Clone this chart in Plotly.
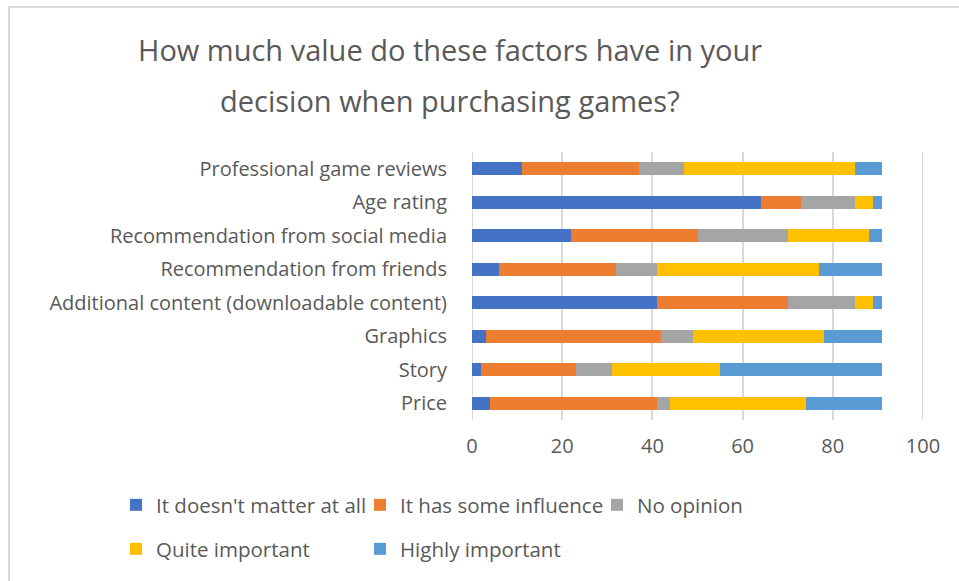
import plotly.graph_objects as go

# -----------------------------
# Data
# -----------------------------
factors = [
    'Professional game reviews',
    'Age rating',
    'Recommendation from social media',
    'Recommendation from friends',
    'Additional content (downloadable content)',
    'Graphics',
    'Story',
    'Price',
]

doesnt_matter = [11, 64, 22, 6, 41, 3, 2, 4]
some_influence = [26, 9, 28, 26, 29, 39, 21, 37]
no_opinion = [10, 12, 20, 9, 15, 7, 8, 3]
quite_important = [38, 4, 18, 36, 4, 29, 24, 30]
highly_important = [6, 2, 3, 14, 2, 13, 36, 17]

x_ticks = [0, 20, 40, 60, 80, 100]

series = [
    ("It doesn't matter at all", doesnt_matter, '#4472C4'),
    ('It has some influence', some_influence, '#ED7D31'),
    ('No opinion', no_opinion, '#A5A5A5'),
    ('Quite important', quite_important, '#FFC000'),
    ('Highly important', highly_important, '#5B9BD5'),
]

# -----------------------------
# Geometry helpers (pixels -> paper coords)
# -----------------------------
W, H = 959, 581
L, R, T, B = 472, 36, 152, 161
PW, PH = W - L - R, H - T - B


def px(x):
    return (x - L) / PW


def py(y):
    return (H - B - y) / PH


FONT = 'Open Sans'
GREY = '#595959'

# legend slots: (x of square's left edge, y centre) in pixels
legend_slots = [(130, 505), (374, 505), (611, 505), (130, 549), (374, 549)]

fig = go.Figure()
for i, (name, vals, color) in enumerate(series):
    lg = 'legend' if i == 0 else f'legend{i + 1}'
    fig.add_trace(go.Bar(
        y=factors,
        x=vals,
        orientation='h',
        name=name,
        marker=dict(color=color, line=dict(width=0)),
        legend=lg,
        hoverinfo='skip',
    ))

legends = {}
for i, (sx, sy) in enumerate(legend_slots):
    key = 'legend' if i == 0 else f'legend{i + 1}'
    legends[key] = dict(
        x=px(sx - 14), y=py(sy), xanchor='left', yanchor='middle',
        orientation='h', bgcolor='rgba(0,0,0,0)', borderwidth=0,
        font=dict(family=FONT, size=20.5, color=GREY),
        itemclick=False, itemdoubleclick=False,
    )

fig.update_layout(
    barmode='stack',
    bargap=0.61,
    width=W, height=H,
    margin=dict(l=L, r=R, t=T, b=B),
    paper_bgcolor='white',
    plot_bgcolor='white',
    font=dict(family=FONT, color=GREY),
    showlegend=True,
    **legends,
    xaxis=dict(
        range=[0, 100],
        tickvals=x_ticks,
        showgrid=True, gridcolor='#D9D9D9', gridwidth=2,
        zeroline=False, showline=False,
        tickfont=dict(family=FONT, size=20, color=GREY),
        ticks='', ticklabelstandoff=12,
        fixedrange=True,
    ),
    yaxis=dict(
        categoryorder='array', categoryarray=factors,
        autorange='reversed',
        showgrid=False, zeroline=False, showline=False,
        tickfont=dict(family=FONT, size=20, color=GREY),
        ticks='', ticklabelstandoff=24,
        fixedrange=True,
    ),
    annotations=[
        dict(text='How much value do these factors have in your',
             x=px(450), y=py(50), xref='paper', yref='paper',
             xanchor='center', yanchor='middle', showarrow=False,
             font=dict(family=FONT, size=29, color=GREY)),
        dict(text='decision when purchasing games?',
             x=px(450), y=py(100), xref='paper', yref='paper',
             xanchor='center', yanchor='middle', showarrow=False,
             font=dict(family=FONT, size=29, color=GREY)),
    ],
    shapes=[
        # chart-area frame (top and left edges visible in the reference)
        dict(type='line', xref='paper', yref='paper',
             x0=px(8), x1=px(W), y0=py(7), y1=py(7),
             line=dict(color='#D9D9D9', width=2)),
        dict(type='line', xref='paper', yref='paper',
             x0=px(9), x1=px(9), y0=py(7), y1=py(H + 5),
             line=dict(color='#D9D9D9', width=2)),
    ],
)

# edge gridlines (0 and 100) drawn explicitly so they always show
fig.add_vline(x=x_ticks[0], line=dict(color='#D9D9D9', width=2), layer='below')
fig.add_vline(x=x_ticks[-1], line=dict(color='#D9D9D9', width=2), layer='below')

# drop the browser's default body margin so the figure sits at (0, 0)
fig.write_html('out.html', config={'displayModeBar': False},
               post_script="document.body.style.margin='0';document.body.style.overflow='hidden';")
